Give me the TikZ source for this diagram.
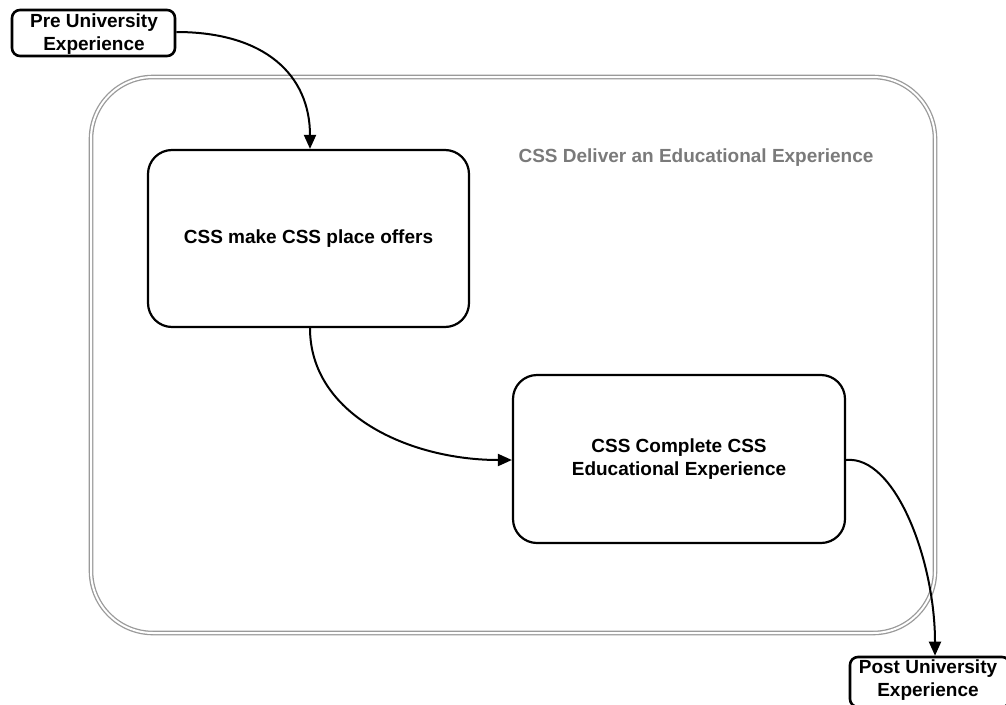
\documentclass[tikz,border=0pt]{standalone}
\usepackage{fontspec}
\setmainfont{Liberation Sans}
\usetikzlibrary{arrows.meta}
\definecolor{framegray}{HTML}{9A9A9A}
\definecolor{labelgray}{HTML}{7A7A7A}
\begin{document}
\begin{tikzpicture}[x=1pt,y=-1pt,
  every node/.style={font=\bfseries\fontsize{19}{23}\selectfont},
  endbox/.style={draw=black,line width=2.6pt,rounded corners=8pt,inner sep=0pt},
  stepbox/.style={draw=black,line width=2.2pt,rounded corners=24pt,inner sep=0pt},
  flow/.style={draw=black,line width=2pt,-{Triangle[length=14pt,width=12pt]}}]
  \useasboundingbox (0,0) rectangle (1006,704);
  \clip (0,0) rectangle (1006,704);
  % outer process frame
  \node[draw=framegray,double=white,double distance=2pt,line width=1.3pt,
        rounded corners=62pt,minimum width=844pt,minimum height=556pt,inner sep=0pt]
        (frame) at (513,355) {};
  \node[text=labelgray] (framelabel) at (696,158) {CSS Deliver an Educational Experience};
  % start and end boxes
  \node[endbox,minimum width=163pt,minimum height=46pt] (pre) at (93.5,33) {};
  \node[align=center] (pretext) at (94,34) {Pre University\\Experience};
  \node[endbox,minimum width=160pt,minimum height=50pt] (post) at (930,682) {};
  \node[align=center] (posttext) at (928,680) {Post University\\Experience};
  % activity boxes
  \node[stepbox,minimum width=321pt,minimum height=177pt] (offers) at (308.5,238.5)
        {CSS make CSS place offers};
  \node[stepbox,minimum width=332pt,minimum height=168pt,align=center] (complete) at (679,459)
        {CSS Complete CSS\\Educational Experience};
  % connectors
  \draw[flow] (pre.east |- 0,32) .. controls (265,32) and (310,75) .. (offers.north -| 310,0);
  \draw[flow] (offers.south -| 310,0) .. controls (310,415) and (410,460) .. (complete.west |- 0,460);
  \draw[flow] (complete.east |- 0,460) .. controls (895,455) and (935,560) .. (post.north -| 935,0);
\end{tikzpicture}
\end{document}
